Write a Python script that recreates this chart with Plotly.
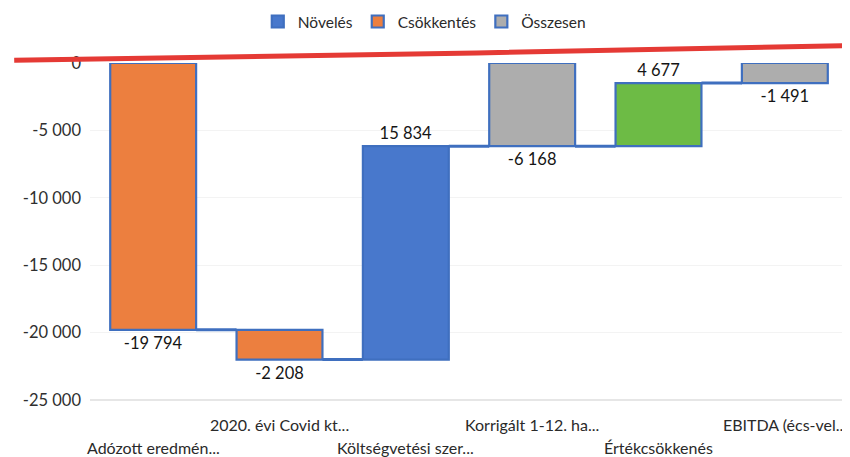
import plotly.graph_objects as go

# ---- data ----
categories = ["Adózott eredmén...", "2020. évi Covid kt...", "Költségvetési szer...",
              "Korrigált 1-12. ha...", "Értékcsökkenés", "EBITDA (écs-vel..."]
values = [-19794, -2208, 15834, -6168, 4677, -1491]
measures = ["relative", "relative", "relative", "total", "relative", "total"]
legend_names = ["Növelés", "Csökkentés", "Összesen"]
ytick_vals = [0, -5000, -10000, -15000, -20000, -25000]
ytick_text = ["0", "-5 000", "-10 000", "-15 000", "-20 000", "-25 000"]

# ---- styles ----
C_INC = "#4878CC"
C_DEC = "#EC7F3F"
C_TOT = "#ADADAD"
C_HIGHLIGHT = {"Értékcsökkenés": "#6DBB45"}
EDGE = "#3F6FBF"
FONT = "Lato"
BAR_W = 0.68


def fmt(v):
    return f"{v:,}".replace(",", " ")


# compute bases and running totals
bases, heights, levels = [], [], []
running = 0
for v, m in zip(values, measures):
    if m == "total":
        bases.append(0)
        heights.append(v)
        running = v
    else:
        bases.append(running)
        heights.append(v)
        running += v
    levels.append(running)

groups = {"Növelés": [], "Csökkentés": [], "Összesen": []}
for i, (v, m) in enumerate(zip(values, measures)):
    if m == "total":
        groups["Összesen"].append(i)
    elif v >= 0:
        groups["Növelés"].append(i)
    else:
        groups["Csökkentés"].append(i)

base_colors = {"Növelés": C_INC, "Csökkentés": C_DEC, "Összesen": C_TOT}

fig = go.Figure()

# connectors
for i in range(len(values) - 1):
    fig.add_trace(go.Scatter(
        x=[i + BAR_W / 2, i + 1 - BAR_W / 2], y=[levels[i], levels[i]],
        mode="lines", line=dict(color=EDGE, width=3),
        showlegend=False, hoverinfo="skip"))

for name in legend_names:
    idx = groups[name]
    fig.add_trace(go.Bar(
        name=name,
        x=idx,
        y=[heights[i] for i in idx],
        base=[bases[i] for i in idx],
        width=BAR_W,
        marker=dict(color=[C_HIGHLIGHT.get(categories[i], base_colors[name]) for i in idx],
                    line=dict(color=EDGE, width=2.2)),
        text=[fmt(values[i]) for i in idx],
        textposition="outside",
        textfont=dict(family=FONT, size=16.5, color="#151515"),
        constraintext="none",
        cliponaxis=False,
    ))

# staggered category labels (two rows)
annotations = []
for i, c in enumerate(categories):
    annotations.append(dict(
        x=i, xref="x", y=0, yref="paper", text=c, showarrow=False,
        xanchor="center", yanchor="middle", yshift=-24 if i % 2 == 1 else -47,
        font=dict(family=FONT, size=16, color="#2a2a2a")))

# page body has an 8px margin, so the figure is 842x449
fig.update_layout(
    width=842, height=449,
    margin=dict(l=82, r=2, t=55, b=57),
    paper_bgcolor="white", plot_bgcolor="white",
    barmode="overlay",
    font=dict(family=FONT, size=16, color="#3a3a3a"),
    legend=dict(orientation="h", x=0.441, xanchor="center", yref="container",
                y=0.969, yanchor="middle",
                font=dict(family=FONT, size=15.5, color="#2a2a2a"), traceorder="normal",
                itemwidth=30),
    xaxis=dict(range=[-0.5, len(categories) - 0.5], showticklabels=False,
               automargin=False, showgrid=False, zeroline=False, showline=False, ticks=""),
    yaxis=dict(range=[-25000, 0], tickmode="array", tickvals=ytick_vals, ticktext=ytick_text,
               tickfont=dict(size=16.5, color="#2f2f2f"),
               showgrid=True, gridcolor="#f3f3f3", zeroline=False, automargin=False,
               showline=False, ticks="", ticklabelstandoff=8),
    annotations=annotations,
    shapes=[
        dict(type="line", xref="paper", yref="paper", x0=0, x1=1, y0=0, y1=0,
             line=dict(color="#dedede", width=1.5), layer="below"),
        dict(type="path", xref="paper", yref="paper",
             path="M -0.1 1.008 L 0.51 1.03 L 1.003 1.052",
             line=dict(color="#E53A35", width=5), layer="above"),
    ],
)

fig.write_html("out.html")
